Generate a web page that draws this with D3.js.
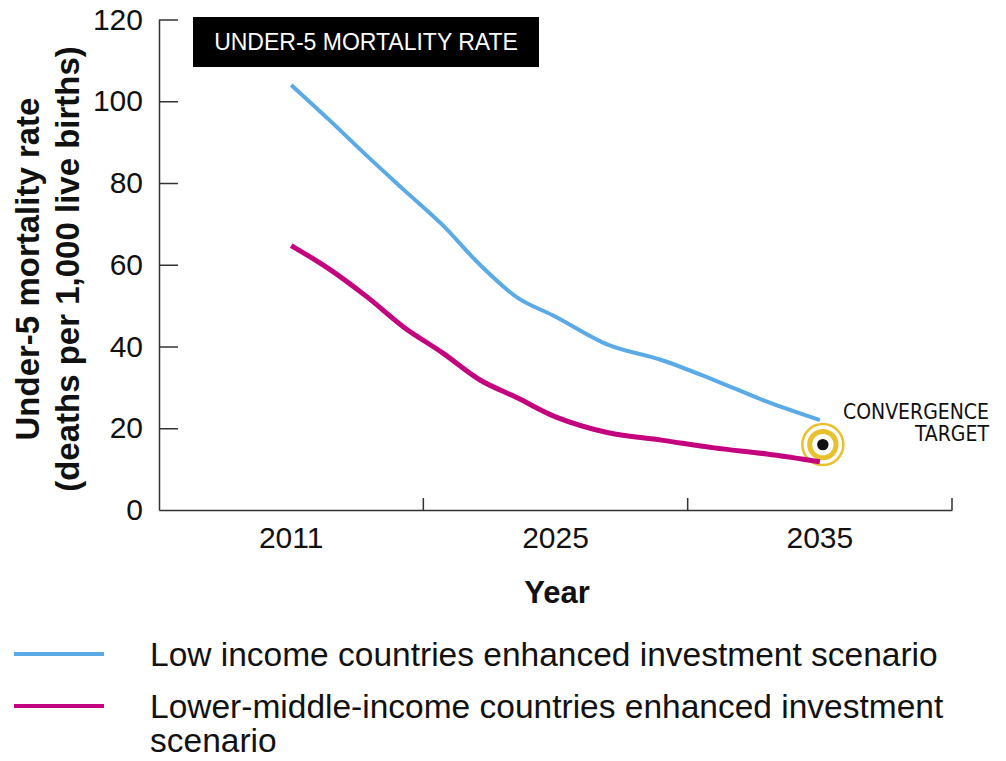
<!DOCTYPE html>
<html>
<head>
<meta charset="utf-8">
<script src="https://cdn.jsdelivr.net/npm/d3@7"></script>
<style>
  body { margin: 0; background: #fff; }
  text { font-family: "Liberation Sans", Arial, sans-serif; fill: #111; }
</style>
</head>
<body>
<svg id="chart" width="1006" height="761"></svg>
<script>
// Data
const yearLabels = ["2011", "2025", "2035"];
const years = [2011, 2013, 2015, 2017, 2019, 2021, 2023, 2025, 2027, 2029, 2031, 2033, 2035];
const lowIncome = [104, 95.5, 86.7, 78.2, 69.8, 60.0, 51.9, 47.3, 40.4, 36.7, 31.8, 26.5, 22.0];
const lowerMiddle = [64.7, 59.0, 52.2, 44.6, 38.5, 31.8, 27.4, 22.8, 18.9, 17.1, 15.2, 13.7, 11.8];
const yTicks = [0, 20, 40, 60, 80, 100, 120];
const target = { year: 2035, value: 16 };
const seriesNames = [
    "Low income countries enhanced investment scenario",
    "Lower-middle-income countries enhanced investment scenario"
];
const seriesColors = ["#5aaae8", "#c4047e"];

const plot = { left: 159, right: 952, top: 19.5, bottom: 510 };

const svg = d3.select("#chart");

const xBand = d3.scaleBand()
    .domain(yearLabels)
    .range([plot.left, plot.right])
    .paddingInner(0);

// lines run from band centre to band centre
const xScale = d3.scaleLinear()
    .domain(yearLabels.map(Number))
    .range(yearLabels.map(d => xBand(d) + xBand.bandwidth() / 2));

const yScale = d3.scaleLinear()
    .domain([0, 120])
    .range([plot.bottom, plot.top]);

// y axis, ticks pointing inward
const yAxis = svg.append("g")
    .attr("transform", `translate(${plot.left}, 0)`)
    .call(d3.axisLeft(yScale).tickValues(yTicks).tickSize(-19).tickPadding(16).tickSizeOuter(0));
yAxis.select(".domain").attr("stroke", "#333").attr("stroke-width", 1.5);
yAxis.selectAll(".tick line").attr("stroke", "#333").attr("stroke-width", 1.5);
yAxis.selectAll(".tick text")
    .attr("font-size", 30)
    .attr("font-family", "'Liberation Sans', Arial, sans-serif")
    .attr("fill", "#111");
yAxis.select(".tick:first-of-type line").remove();

// x axis: labels at band centres, ticks at band edges
const xAxis = svg.append("g")
    .attr("transform", `translate(0, ${plot.bottom})`)
    .call(d3.axisBottom(xBand).tickSize(0).tickPadding(17).tickSizeOuter(0));
xAxis.select(".domain").attr("stroke", "#333").attr("stroke-width", 1.5);
xAxis.selectAll(".tick text")
    .attr("font-size", 30)
    .attr("font-family", "'Liberation Sans', Arial, sans-serif")
    .attr("fill", "#111");

xAxis.selectAll(".edge")
    .data(yearLabels)
    .enter().append("line")
    .attr("class", "edge")
    .attr("x1", d => xBand(d) + xBand.bandwidth())
    .attr("x2", d => xBand(d) + xBand.bandwidth())
    .attr("y1", 0)
    .attr("y2", -12)
    .attr("stroke", "#333")
    .attr("stroke-width", 1.5);

// axis titles
const yTitle = svg.append("text")
    .attr("transform", "translate(0, 269) rotate(-90)")
    .attr("text-anchor", "middle")
    .attr("font-size", 33)
    .attr("font-weight", "bold");
yTitle.append("tspan").attr("x", 0).attr("y", 39).text("Under-5 mortality rate");
yTitle.append("tspan").attr("x", 0).attr("y", 79).text("(deaths per 1,000 live births)");

svg.append("text")
    .attr("x", 557)
    .attr("y", 603)
    .attr("text-anchor", "middle")
    .attr("font-size", 31)
    .attr("font-weight", "bold")
    .text("Year");

// title box
svg.append("rect")
    .attr("x", 193)
    .attr("y", 17)
    .attr("width", 346)
    .attr("height", 50)
    .attr("fill", "#000");

svg.append("text")
    .attr("x", 366)
    .attr("y", 50)
    .attr("text-anchor", "middle")
    .attr("font-size", 23)
    .style("fill", "#fff")
    .text("UNDER-5 MORTALITY RATE");

// convergence target
const tx = xScale(target.year) + 3, ty = yScale(target.value);
const tg = svg.append("g").attr("transform", `translate(${tx}, ${ty})`);
tg.append("circle").attr("r", 20.5).attr("fill", "none").attr("stroke", "#e9c12c").attr("stroke-width", 2.5);
tg.append("circle").attr("r", 13.2).attr("fill", "none").attr("stroke", "#e9c12c").attr("stroke-width", 5);
tg.append("circle").attr("r", 5.7).attr("fill", "#111");

const note = svg.append("text")
    .attr("text-anchor", "end")
    .attr("font-size", 21)
    .style("font-family", "'Liberation Sans Narrow', 'DejaVu Sans Condensed', Arial, sans-serif");
note.append("tspan").attr("x", 989).attr("y", 419).text("CONVERGENCE");
note.append("tspan").attr("x", 989).attr("y", 441).text("TARGET");

// lines
const line = d3.line()
    .x(d => xScale(d[0]))
    .y(d => yScale(d[1]))
    .curve(d3.curveCatmullRom.alpha(0.5));

[lowIncome, lowerMiddle].forEach((vals, i) => {
    svg.append("path")
        .datum(years.map((y, j) => [y, vals[j]]))
        .attr("fill", "none")
        .attr("stroke", seriesColors[i])
        .attr("stroke-width", i === 0 ? 4 : 5)
        .attr("d", line);
});

// legend
const legendRows = [
    { y: 654, lines: [seriesNames[0]] },
    { y: 706, lines: ["Lower-middle-income countries enhanced investment", "scenario"] }
];

legendRows.forEach((row, i) => {
    svg.append("line")
        .attr("x1", 14)
        .attr("x2", 104)
        .attr("y1", row.y)
        .attr("y2", row.y)
        .attr("stroke", seriesColors[i])
        .attr("stroke-width", 4);

    const t = svg.append("text")
        .attr("font-size", 33.5);
    row.lines.forEach((s, k) => {
        t.append("tspan")
            .attr("x", 150)
            .attr("y", row.y + 12 + k * 34)
            .text(s);
    });
});
</script>
</body>
</html>
